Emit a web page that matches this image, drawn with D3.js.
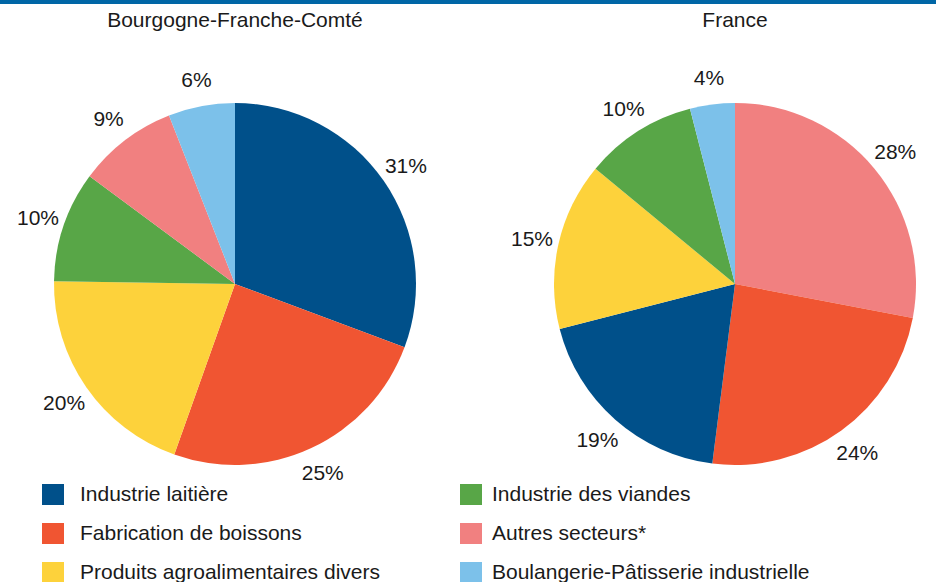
<!DOCTYPE html>
<html>
<head>
<meta charset="utf-8">
<script src="https://cdn.jsdelivr.net/npm/d3@7"></script>
<style>
  body { margin: 0; background: #fff; }
  text { font-family: "Liberation Sans", Arial, sans-serif; fill: #1a1a1a; }
</style>
</head>
<body>
<svg id="chart" width="936" height="582"></svg>
<script>
// categories, in legend order
var categories = ["Industrie laitière", "Fabrication de boissons", "Produits agroalimentaires divers",
                  "Industrie des viandes", "Autres secteurs*", "Boulangerie-Pâtisserie industrielle"];
var colors = ["#00508a", "#f05532", "#fdd23b", "#58a647", "#f18080", "#7cc1ea"];

// slice order (clockwise from top) and shares, %
var bfcOrder = ["Industrie laitière", "Fabrication de boissons", "Produits agroalimentaires divers",
                "Industrie des viandes", "Autres secteurs*", "Boulangerie-Pâtisserie industrielle"];
var bfcValues = [31, 25, 20, 10, 9, 6];

var franceOrder = ["Autres secteurs*", "Fabrication de boissons", "Industrie laitière",
                   "Produits agroalimentaires divers", "Industrie des viandes", "Boulangerie-Pâtisserie industrielle"];
var franceValues = [28, 24, 19, 15, 10, 4];

var titles = ["Bourgogne-Franche-Comté", "France"];

var svg = d3.select("#chart");
var W = 936;

svg.append("rect").attr("x", 0).attr("y", 0).attr("width", W).attr("height", 4).attr("fill", "#0066a6");

var color = d3.scaleOrdinal().domain(categories).range(colors);
var radius = 181;
var pie = d3.pie().sort(null).value(d => d.value);
var arc = d3.arc().innerRadius(0).outerRadius(radius);
var labelArc = d3.arc().innerRadius(208).outerRadius(208);

function drawPie(cx, title, order, values) {
    var data = order.map((c, i) => ({cat: c, value: values[i]}));
    svg.append("text").attr("x", cx).attr("y", 27)
        .attr("text-anchor", "middle").style("font-size", "21px").text(title);

    var g = svg.append("g").attr("transform", "translate(" + cx + ",284)");
    var arcs = pie(data);
    g.selectAll("path").data(arcs).enter().append("path")
        .attr("d", arc)
        .attr("fill", d => color(d.data.cat));
    g.selectAll(".lbl").data(arcs).enter().append("text")
        .attr("class", "lbl")
        .attr("transform", d => "translate(" + labelArc.centroid(d) + ")")
        .attr("text-anchor", "middle").attr("dy", "0.35em")
        .style("font-size", "21px")
        .text(d => d.data.value + "%");
}

drawPie(235, titles[0], bfcOrder, bfcValues);
drawPie(735, titles[1], franceOrder, franceValues);

// legend: two columns of three
var legend = svg.append("g");
var item = legend.selectAll("g").data(categories).enter().append("g")
    .attr("transform", (d, i) => "translate(" + (i < 3 ? 42 : 460) + "," + (494 + (i % 3) * 39) + ")");
item.append("rect").attr("x", 0).attr("y", -10).attr("width", 22).attr("height", 21)
    .attr("fill", d => color(d));
item.append("text").attr("x", (d, i) => i < 3 ? 38 : 32).attr("dy", "0.35em")
    .style("font-size", "21px").text(d => d);
</script>
</body>
</html>
